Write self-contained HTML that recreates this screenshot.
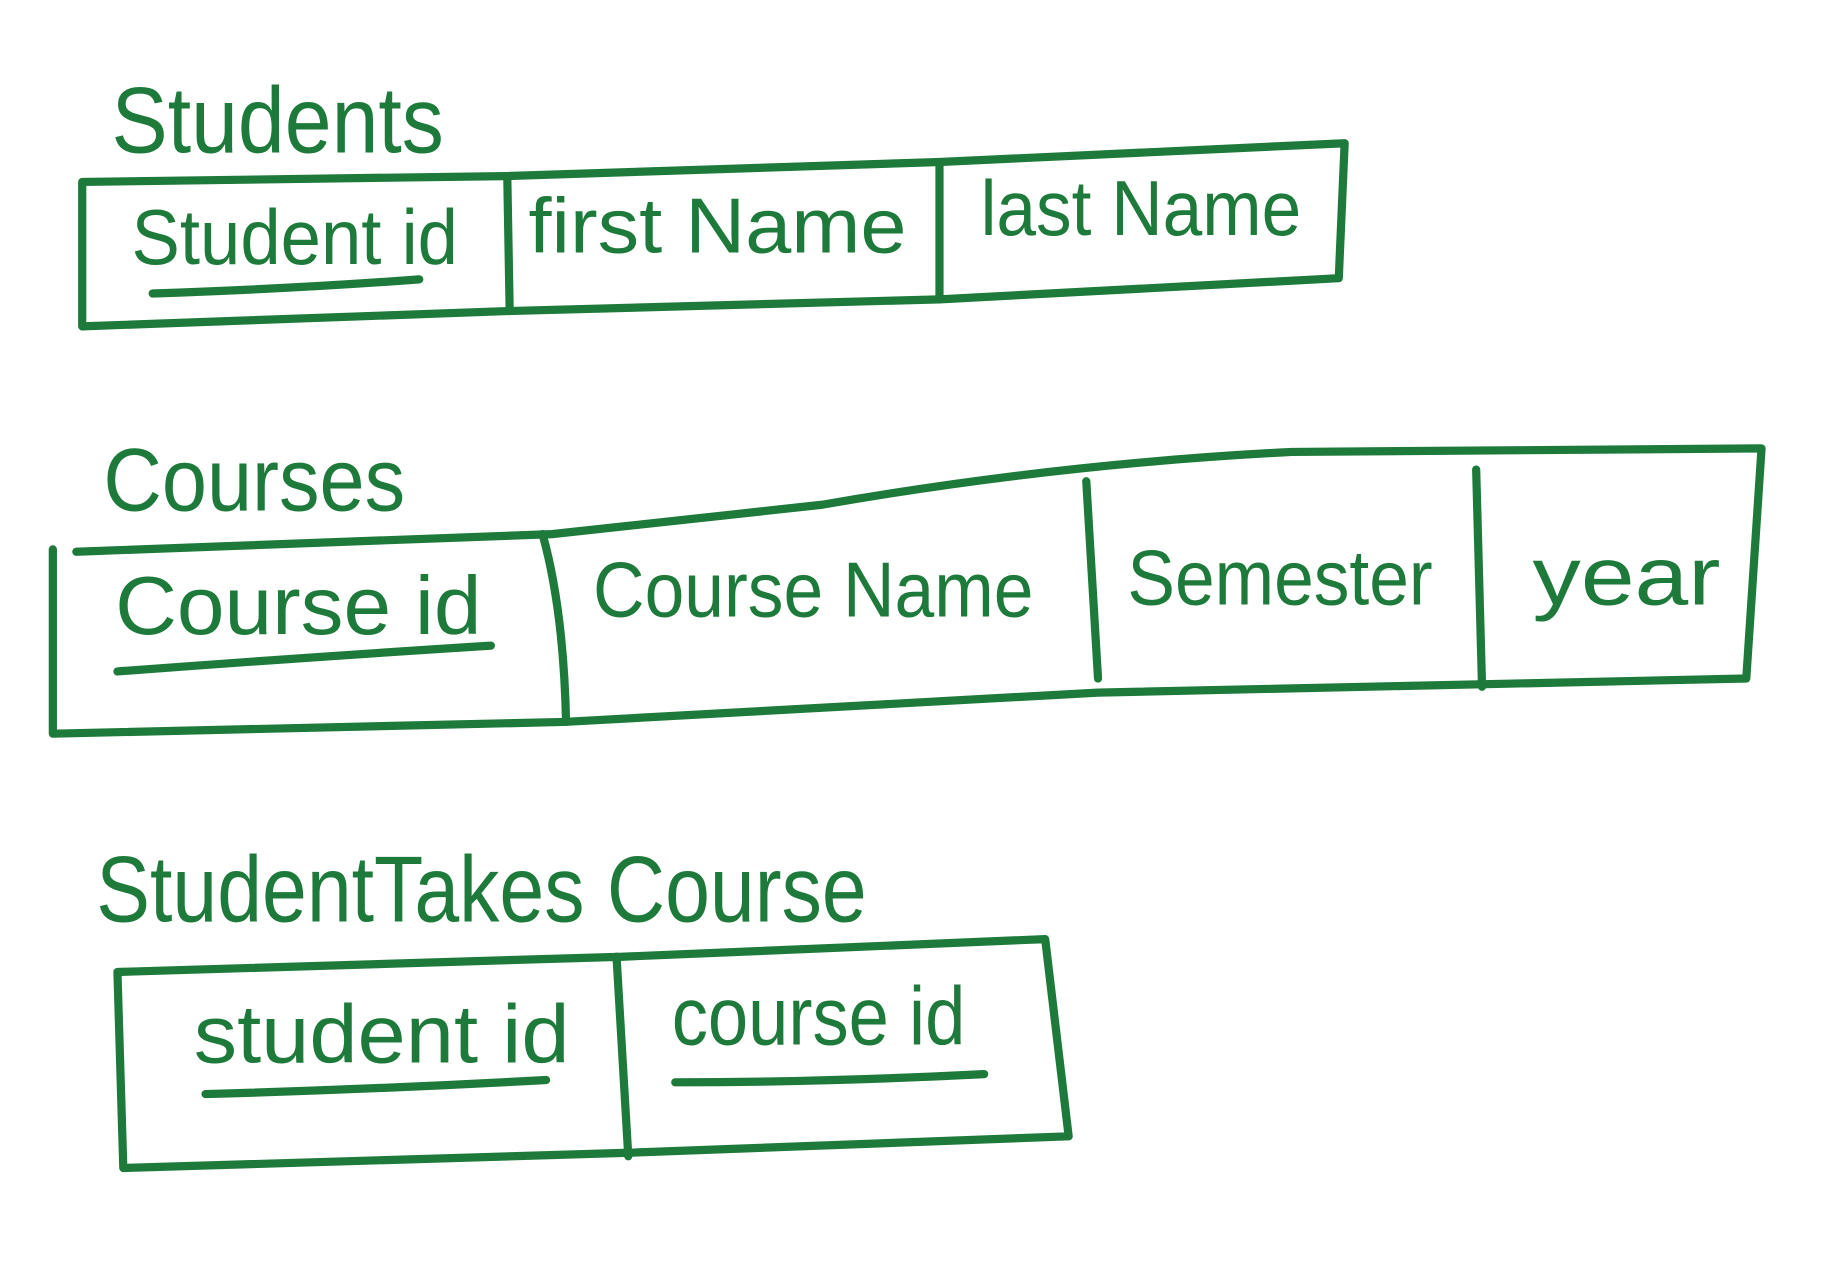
<!DOCTYPE html>
<html><head><meta charset="utf-8"><style>
html,body{margin:0;padding:0;background:#fff;width:1832px;height:1276px;overflow:hidden}
svg{display:block}
text{font-family:"Liberation Sans",sans-serif;fill:#1d7a3a;stroke:none}
</style></head><body>
<svg width="1832" height="1276" viewBox="0 0 1560 1087" preserveAspectRatio="none">
<g fill="none" stroke="#1d7a3a" stroke-width="7" stroke-linecap="round" stroke-linejoin="round">
<!-- Students table -->
<path d="M70,155 L430,150 L800,138 L1145,122 L1140,237 L800,255 L432,265 L70,278 Z"/>
<path d="M432,152 L434,265"/><path d="M800,140 L800,255"/>
<path d="M130,250 Q250,246 357,238"/>
<!-- Courses table -->
<path d="M45,468 L45,625 L480,615 L935,590 L1487,578 L1500,382 L1100,385 Q900,395 700,430 L470,455 L65,470"/>
<path d="M462,455 Q480,520 482,615"/><path d="M925,410 Q930,500 935,578"/><path d="M1257,400 L1262,585"/>
<path d="M100,572 Q260,560 418,550"/>
<!-- StudentTakesCourse -->
<path d="M100,828 L530,815 L890,800 L910,968 L535,982 L105,995 Z"/>
<path d="M525,815 L535,985"/>
<path d="M175,932 Q320,928 465,920"/>
<path d="M575,922 Q700,922 838,915"/>
</g>
<text x="95" y="130" font-size="80" textLength="283" lengthAdjust="spacingAndGlyphs">Students</text>
<text x="112" y="225" font-size="66" textLength="278" lengthAdjust="spacingAndGlyphs">Student id</text>
<text x="450" y="215" font-size="66" textLength="322" lengthAdjust="spacingAndGlyphs">first Name</text>
<text x="835" y="200" font-size="66" textLength="273" lengthAdjust="spacingAndGlyphs">last Name</text>
<text x="88" y="435" font-size="76" textLength="257" lengthAdjust="spacingAndGlyphs">Courses</text>
<text x="98" y="540" font-size="70" textLength="312" lengthAdjust="spacingAndGlyphs">Course id</text>
<text x="505" y="525" font-size="66" textLength="375" lengthAdjust="spacingAndGlyphs">Course Name</text>
<text x="960" y="515" font-size="66" textLength="260" lengthAdjust="spacingAndGlyphs">Semester</text>
<text x="1305" y="515" font-size="70" textLength="160" lengthAdjust="spacingAndGlyphs">year</text>
<text x="82" y="785" font-size="80" textLength="656" lengthAdjust="spacingAndGlyphs">StudentTakes Course</text>
<text x="165" y="905" font-size="70" textLength="320" lengthAdjust="spacingAndGlyphs">student id</text>
<text x="572" y="890" font-size="70" textLength="250" lengthAdjust="spacingAndGlyphs">course id</text>
</svg>
</body></html>
